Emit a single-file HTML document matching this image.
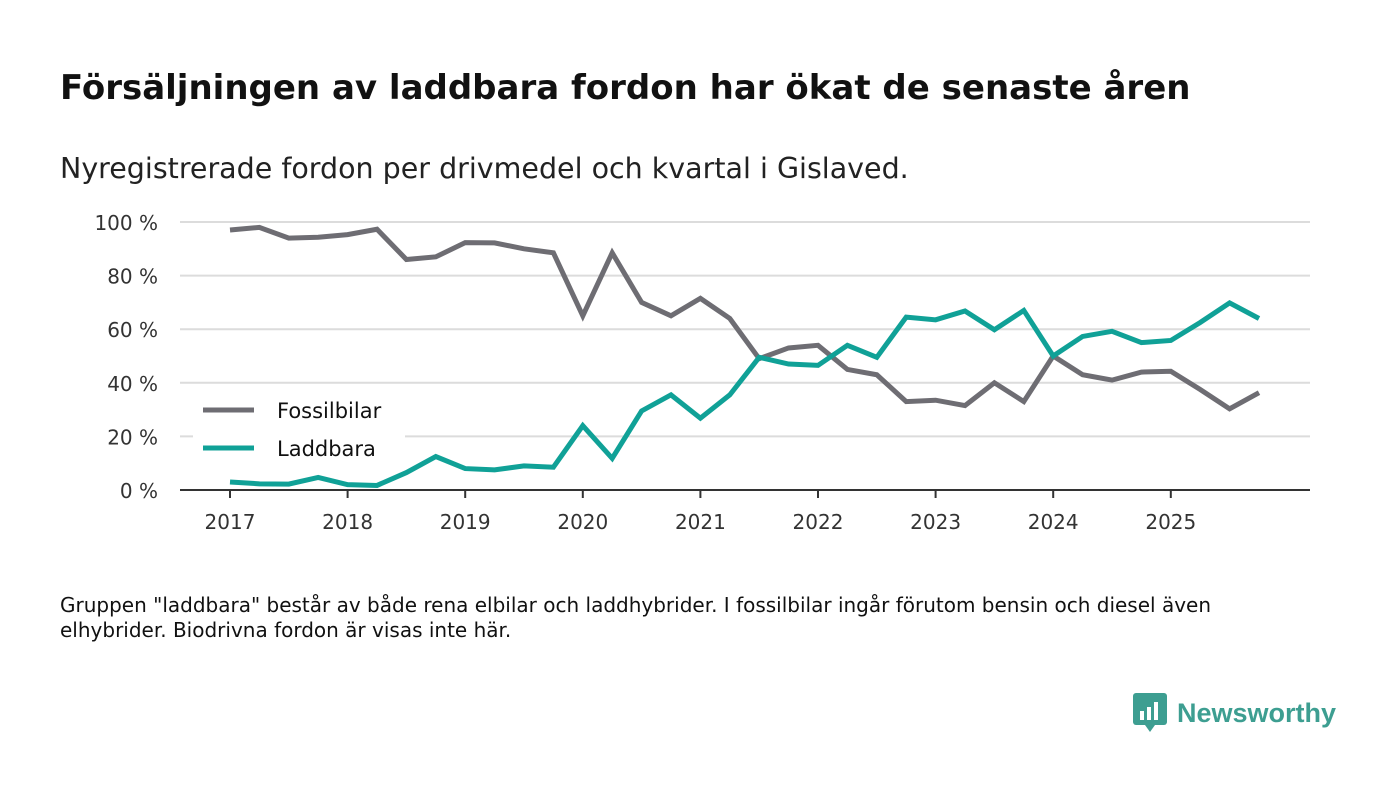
<!DOCTYPE html>
<html><head><meta charset="utf-8"><style>
body{margin:0;background:#fff;font-family:"DejaVu Sans",sans-serif;}
#wrap{position:relative;width:1400px;height:793px;overflow:hidden;}
h1{position:absolute;left:60px;top:68px;margin:0;font-size:34px;font-weight:bold;color:#111;white-space:nowrap;}
.sub{position:absolute;left:60px;top:152px;font-size:28.5px;color:#222;white-space:nowrap;}
.note{position:absolute;left:60px;top:593px;font-size:20px;line-height:25px;color:#111;width:1235px;}
.logo{position:absolute;left:1133px;top:693px;display:flex;align-items:center;}
</style></head><body>
<div id="wrap">
<h1>Försäljningen av laddbara fordon har ökat de senaste åren</h1>
<div class="sub">Nyregistrerade fordon per drivmedel och kvartal i Gislaved.</div>
<svg id="chart" width="1400" height="793" style="position:absolute;left:0;top:0"></svg>
<div class="note">Gruppen "laddbara" består av både rena elbilar och laddhybrider. I fossilbilar ingår förutom bensin och diesel även elhybrider. Biodrivna fordon är visas inte här.</div>
<div class="logo">
<svg width="34" height="40" viewBox="0 0 34 40"><rect x="0" y="0" width="34" height="32" rx="3" fill="#3d9e91"/><path d="M12 32 L17 39 L22 32Z" fill="#3d9e91"/><rect x="7" y="18" width="4" height="9" fill="#fff"/><rect x="14" y="14" width="4" height="13" fill="#fff"/><rect x="21" y="9" width="4" height="18" fill="#fff"/></svg>
<span style="margin-left:10px;font-size:27px;font-weight:bold;color:#3d9e91;font-family:'Liberation Sans',sans-serif;">Newsworthy</span></div>
</div>
<script>
const years=["2017","2018","2019","2020","2021","2022","2023","2024","2025"];
const yTicks=[0,20,40,60,80,100];
const fossil=[97,98,94,94.3,95.3,97.3,86,87,92.3,92.2,90,88.5,65,88.5,70,65,71.5,64,49,53,54,45,43,33,33.5,31.5,40,33,50,43,41,44,44.3,37.5,30.3,36.3];
const laddbara=[3,2.3,2.2,4.7,2,1.7,6.5,12.5,8,7.5,9,8.5,24,11.8,29.5,35.5,26.8,35.5,49.5,47,46.5,54,49.5,64.5,63.5,66.8,59.8,67,50,57.3,59.2,55,55.8,62.5,69.8,64];
const svg=document.getElementById('chart');const NS='http://www.w3.org/2000/svg';
const x0=230,qw=29.4,yb=490,yt=222;
const X=i=>x0+i*qw; const Y=v=>yb-(v/100)*(yb-yt);
function mk(t,a){const e=document.createElementNS(NS,t);for(const k in a)e.setAttribute(k,a[k]);svg.appendChild(e);return e;}
yTicks.forEach(v=>{
 if(v>0){const g=mk('line',{x1:180,x2:1310,y1:Y(v),y2:Y(v),stroke:'#dcdcdc','stroke-width':2});
 
 }
 const t=mk('text',{x:158,y:Y(v)+8,'text-anchor':'end','font-size':20,fill:'#333','font-family':'DejaVu Sans, sans-serif'});
 t.textContent=v+' %';
 
 
});
const ax=mk('line',{x1:180,x2:1310,y1:yb,y2:yb,stroke:'#333','stroke-width':2});


years.forEach((yr,i)=>{
 const x=X(i*4);
 const tk=mk('line',{x1:x,x2:x,y1:yb,y2:yb+8,stroke:'#333','stroke-width':2});
 
 
 const t=mk('text',{x:x,y:529,'text-anchor':'middle','font-size':20,fill:'#333','font-family':'DejaVu Sans, sans-serif'});
 t.textContent=yr;
 
 
});
const lg=mk('rect',{x:193,y:393,width:212,height:70,fill:'#fff'});


function line(data,color,name){
 const p=mk('polyline',{points:data.map((v,i)=>X(i)+','+Y(v)).join(' '),fill:'none',stroke:color,'stroke-width':5,'stroke-linejoin':'miter'});
 
 
}
line(fossil,'#6e6d73','fossilbilar-line');
line(laddbara,'#10a197','laddbara-line');
[['Fossilbilar','#6e6d73',410],['Laddbara','#10a197',448]].forEach(([n,c,y])=>{
 const l=mk('line',{x1:203,x2:254,y1:y,y2:y,stroke:c,'stroke-width':5});
 
 
 const t=mk('text',{x:277,y:y+8,'font-size':21,fill:'#111','font-family':'DejaVu Sans, sans-serif'});
 t.textContent=n;
 
 
});
</script>
</body></html>
